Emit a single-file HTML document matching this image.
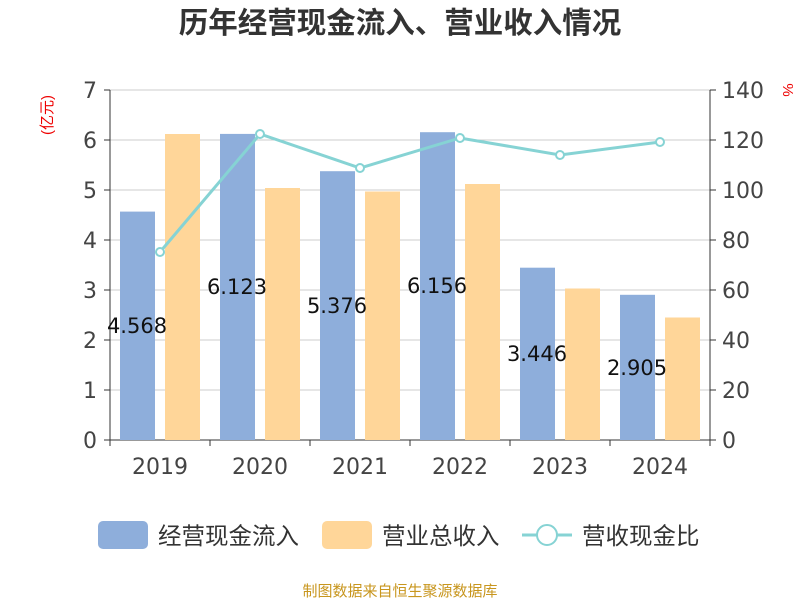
<!DOCTYPE html>
<html><head><meta charset="utf-8"><style>
body{margin:0;background:#fff;}
svg text{font-family:"Liberation Sans","Noto Sans CJK SC",sans-serif;}
svg .n{font-family:"DejaVu Sans","Liberation Sans",sans-serif;}
</style></head><body>
<svg width="800" height="600" xmlns="http://www.w3.org/2000/svg">
<text x="400" y="33" text-anchor="middle" font-size="29.5" font-weight="bold" fill="#333">历年经营现金流入、营业收入情况</text>
<g stroke="#ccc" stroke-width="1">
<line x1="110" y1="90" x2="710" y2="90"/><line x1="110" y1="140" x2="710" y2="140"/>
<line x1="110" y1="190" x2="710" y2="190"/><line x1="110" y1="240" x2="710" y2="240"/>
<line x1="110" y1="290" x2="710" y2="290"/><line x1="110" y1="340" x2="710" y2="340"/>
<line x1="110" y1="390" x2="710" y2="390"/>
</g>
<g stroke="#333" stroke-width="1">
<line x1="110" y1="90" x2="110" y2="440"/><line x1="710" y1="90" x2="710" y2="440"/>
<line x1="110" y1="440" x2="710" y2="440"/>
<line x1="104" y1="90" x2="110" y2="90"/><line x1="104" y1="140" x2="110" y2="140"/><line x1="104" y1="190" x2="110" y2="190"/><line x1="104" y1="240" x2="110" y2="240"/><line x1="104" y1="290" x2="110" y2="290"/><line x1="104" y1="340" x2="110" y2="340"/><line x1="104" y1="390" x2="110" y2="390"/><line x1="104" y1="440" x2="110" y2="440"/>
<line x1="710" y1="90" x2="716" y2="90"/><line x1="710" y1="140" x2="716" y2="140"/><line x1="710" y1="190" x2="716" y2="190"/><line x1="710" y1="240" x2="716" y2="240"/><line x1="710" y1="290" x2="716" y2="290"/><line x1="710" y1="340" x2="716" y2="340"/><line x1="710" y1="390" x2="716" y2="390"/><line x1="710" y1="440" x2="716" y2="440"/>
<line x1="110" y1="440" x2="110" y2="446"/><line x1="210" y1="440" x2="210" y2="446"/><line x1="310" y1="440" x2="310" y2="446"/><line x1="410" y1="440" x2="410" y2="446"/><line x1="510" y1="440" x2="510" y2="446"/><line x1="610" y1="440" x2="610" y2="446"/><line x1="710" y1="440" x2="710" y2="446"/>
</g>
<g class="n" font-size="22" fill="#444" text-anchor="end">
<text class="n" x="97" y="98">7</text><text class="n" x="97" y="148">6</text><text class="n" x="97" y="198">5</text><text class="n" x="97" y="248">4</text><text class="n" x="97" y="298">3</text><text class="n" x="97" y="348">2</text><text class="n" x="97" y="398">1</text><text class="n" x="97" y="448">0</text>
</g>
<g font-size="22" fill="#444">
<text class="n" x="722" y="98">140</text><text class="n" x="722" y="148">120</text><text class="n" x="722" y="198">100</text><text class="n" x="722" y="248">80</text><text class="n" x="722" y="298">60</text><text class="n" x="722" y="348">40</text><text class="n" x="722" y="398">20</text><text class="n" x="722" y="448">0</text>
</g>
<text transform="translate(52,115) rotate(-90)" font-size="15" fill="#e00" text-anchor="middle">(亿元)</text>
<text transform="translate(783,90) rotate(90)" font-size="15" fill="#e00" text-anchor="middle">%</text>
<g font-size="22" fill="#444" text-anchor="middle">
<text class="n" x="160" y="474">2019</text><text class="n" x="260" y="474">2020</text><text class="n" x="360" y="474">2021</text><text class="n" x="460" y="474">2022</text><text class="n" x="560" y="474">2023</text><text class="n" x="660" y="474">2024</text>
</g>
<g fill="#8eaedb">
<rect x="120" y="211.6" width="35" height="228.4"/><rect x="220" y="133.9" width="35" height="306.1"/><rect x="320" y="171.2" width="35" height="268.8"/><rect x="420" y="132.2" width="35" height="307.8"/><rect x="520" y="267.7" width="35" height="172.3"/><rect x="620" y="294.8" width="35" height="145.2"/>
</g>
<g fill="#ffd699">
<rect x="165" y="134" width="35" height="306"/><rect x="265" y="188" width="35" height="252"/><rect x="365" y="191.5" width="35" height="248.5"/><rect x="465" y="184" width="35" height="256"/><rect x="565" y="288.5" width="35" height="151.5"/><rect x="665" y="317.5" width="35" height="122.5"/>
</g>
<g font-size="21" fill="#111" text-anchor="middle">
<text class="n" x="137" y="333">4.568</text><text class="n" x="237" y="294">6.123</text><text class="n" x="337" y="313">5.376</text><text class="n" x="437" y="293">6.156</text><text class="n" x="537" y="361">3.446</text><text class="n" x="637" y="375">2.905</text>
</g>
<polyline points="160,252 260,134 360,168 460,138 560,155 660,142" fill="none" stroke="#86d3d4" stroke-width="3"/>
<g fill="#fff" stroke="#86d3d4" stroke-width="2">
<circle cx="160" cy="252" r="4"/><circle cx="260" cy="134" r="4"/><circle cx="360" cy="168" r="4"/><circle cx="460" cy="138" r="4"/><circle cx="560" cy="155" r="4"/><circle cx="660" cy="142" r="4"/>
</g>
<rect x="98" y="521" width="50" height="28" rx="5" fill="#8eaedb"/>
<text x="158" y="544" font-size="23.5" fill="#333">经营现金流入</text>
<rect x="322" y="521" width="50" height="28" rx="5" fill="#ffd699"/>
<text x="382" y="544" font-size="23.5" fill="#333">营业总收入</text>
<line x1="522" y1="535" x2="572" y2="535" stroke="#86d3d4" stroke-width="3"/>
<circle cx="547" cy="535" r="10" fill="#fff" stroke="#86d3d4" stroke-width="2"/>
<text x="582" y="544" font-size="23.5" fill="#333">营收现金比</text>
<text x="400" y="596" font-size="15" fill="#c8961e" text-anchor="middle">制图数据来自恒生聚源数据库</text>
</svg>
</body></html>
